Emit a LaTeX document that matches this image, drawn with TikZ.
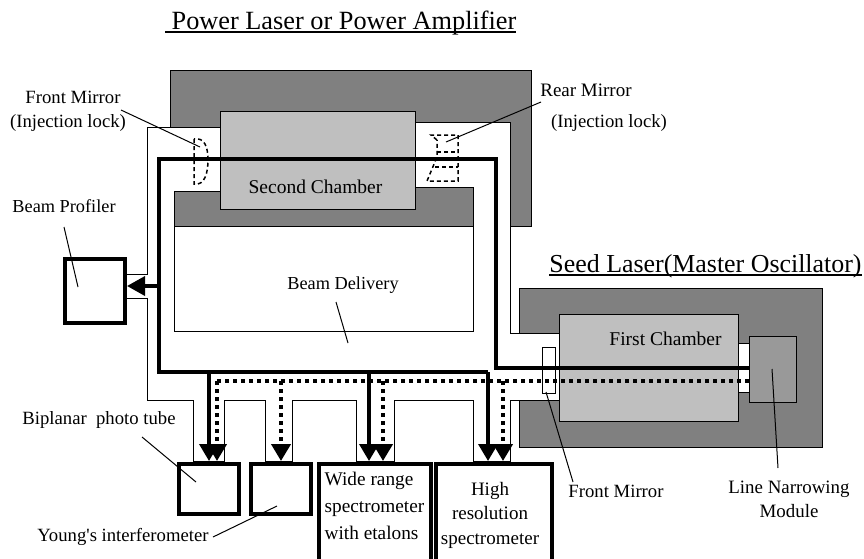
\documentclass[tikz,border=0pt]{standalone}
\usepackage{fontspec}
\setmainfont{Liberation Serif}
\usetikzlibrary{arrows.meta}
\newcommand{\fs}[2]{\fontsize{#1}{#2}\selectfont}
\tikzset{
 thin line/.style={draw=black,line width=0.9pt},
 darkbox/.style={thin line,fill=black!50},
 chamber/.style={thin line,fill=black!25,anchor=north west,inner sep=0pt},
 probe/.style={draw=black,line width=4pt,fill=white,anchor=north west,inner sep=0pt},
 beam/.style={line width=3.6pt,draw=black},
 beamarrow/.style={beam,-{Triangle[length=17pt,width=19pt]},shorten >=1pt},
 dotbeam/.style={line width=4pt,draw=black,dash pattern=on 4pt off 4pt},
 dotarrow/.style={dotbeam,-{Triangle[length=17pt,width=19pt]},shorten >=1pt},
 leader/.style={draw=black,line width=1pt},
 mirror/.style={draw=black,line width=1.5pt,dash pattern=on 4pt off 3pt},
 lab/.style={text=black,inner sep=0pt,align=center,font=\fs{18.7}{22}},
 headline/.style={text=black,inner sep=0pt,anchor=base,font=\fs{25.9}{28}},
 rule line/.style={draw=black,line width=2pt},
}
\begin{document}
\begin{tikzpicture}[x=1pt,y=-1pt]
\useasboundingbox (0,0) rectangle (864,558);
\begin{scope}
\clip (0,0) rectangle (864,558);
% housings
\node[darkbox,anchor=north west,inner sep=0pt,minimum width=361pt,minimum height=156pt] (powerhouse) at (170,70) {};
\node[darkbox,anchor=north west,inner sep=0pt,minimum width=303pt,minimum height=159pt] (seedhouse) at (519,288) {};
% white corridor
\draw[thin line,fill=white] (220,127)--(147,127)--(147,274)--(126,274)--(126,298)--(147,298)--(147,400)
 --(193,400)--(193,461)--(224,461)--(224,400)--(265,400)--(265,461)--(292,461)--(292,400)
 --(356,400)--(356,461)--(394,461)--(394,400)--(473,400)--(473,461)--(510,461)--(510,400)
 --(559,400)--(559,333)--(510,333)--(510,122)--(415,122)--(415,187)--(473,187)--(473,331)
 --(174,331)--(174,191)--(220,191)--cycle;
% beam delivery
\node[thin line,fill=white,anchor=north west,inner sep=0pt,minimum width=299pt,minimum height=105pt] (delivery) at (174,226) {};
\draw[darkbox] (174,191)--(220,191)--(220,187)--(473,187)--(473,226)--(174,226)--cycle;
% chambers
\node[chamber,minimum width=195pt,minimum height=98pt] (second) at (220,111) {};
\node[chamber,minimum width=179pt,minimum height=107pt] (first) at (559,314) {};
\node[thin line,fill=white,anchor=north west,inner sep=0pt,minimum width=11pt,minimum height=49pt] (link) at (738,343) {};
\node[thin line,fill=black!40,anchor=north west,inner sep=0pt,minimum width=47pt,minimum height=66pt] (module) at (749,336) {};
\node[thin line,fill=white,anchor=north west,inner sep=0pt,minimum width=13pt,minimum height=46pt] (seedmirror) at (542,347) {};
% instruments
\node[probe,minimum width=60pt,minimum height=64pt] (profiler) at (63,257) {};
\node[probe,minimum width=60pt,minimum height=50pt] (biplanar) at (177,462) {};
\node[probe,minimum width=60pt,minimum height=50pt] (young) at (249,462) {};
\node[probe,minimum width=112pt,minimum height=120pt] (wide) at (317,462) {};
\node[probe,minimum width=116pt,minimum height=120pt] (high) at (434,462) {};
% beam path coordinates
\coordinate (m1) at (749,368);
\coordinate (c1) at (496,368);
\coordinate (c2) at (496,159);
\coordinate (c3) at (159,159);
\coordinate (c4) at (159,372);
\coordinate (c5) at (488,372);
\coordinate (t1) at (209,372);
\coordinate (t2) at (369,372);
\coordinate (t3) at (159,286);
\coordinate (d0) at (749,381);
\coordinate (d1) at (217,381);
\coordinate (d2) at (281,381);
\coordinate (d3) at (383,381);
\coordinate (d4) at (503,381);
% dotted
\draw[dotbeam] (d0)--(d1);
\draw[dotarrow] (d1)--(d1 |- biplanar.north);
\draw[dotarrow] (d2)--(d2 |- young.north);
\draw[dotarrow] (d3)--(d3 |- wide.north);
\draw[dotarrow] (d4)--(d4 |- high.north);
% solid
\draw[beam,line join=miter] (m1)--(c1)--(c2)--(c3)--(c4)--(c5);
\draw[beamarrow] (c5)--(c5 |- high.north);
\draw[beamarrow] (t1)--(t1 |- biplanar.north);
\draw[beamarrow] (t2)--(t2 |- wide.north);
\draw[beam,-{Triangle[length=18pt,width=19pt]}] (t3)--(t3 -| profiler.east);
% mirrors
\coordinate (fm1) at (194,139);
\coordinate (fm2) at (194,184);
\draw[mirror] (fm1)--(fm2) .. controls (205,186) and (208,172) .. (208,160) .. controls (208,148) and (205,137) .. (fm1);
\coordinate (rm1) at (431,135);
\coordinate (rm2) at (458,135);
\coordinate (rm3) at (458,181);
\coordinate (rm4) at (427,181);
\coordinate (rm5) at (437,157);
\coordinate (rm6) at (437,140);
\draw[mirror] (rm6)--(rm1)--(rm2)--(rm3)--(rm4)--(rm5)--cycle;
\draw[mirror] (437,152)--(458,152);
\draw[mirror] (435,167)--(458,167);
% labels
\node[headline,font=\fs{26.3}{28}] (title) at (344,29.5) {Power Laser or Power Amplifier};
\coordinate (ta) at (165,32); \coordinate (tb) at (516,32);
\draw[rule line] (ta)--(tb);
\node[headline] (seedtitle) at (705.5,272) {Seed Laser(Master Oscillator)};
\coordinate (sa) at (549,275); \coordinate (sb) at (862,275);
\draw[rule line] (sa)--(sb);
\node[lab] (fmlabel) at (73,97) {Front Mirror};
\node[lab] (fmlabelb) at (68,123) {(Injection lock)};
\node[lab,font=\fs{19}{22}] (rmlabel) at (586,90) {Rear Mirror};
\node[lab] (rmlabelb) at (609,123) {(Injection lock)};
\node[lab,font=\fs{18.3}{22}] (bplabel) at (64,206) {Beam Profiler};
\node[lab,font=\fs{19.5}{22}] (sclabel) at (315.5,187) {Second Chamber};
\node[lab,font=\fs{18.3}{22}] (bdlabel) at (343,285) {Beam Delivery};
\node[lab,font=\fs{19.5}{22}] (fclabel) at (665.5,339) {First Chamber};
\node[lab] (btlabel) at (99,420) {Biplanar \ photo tube};
\node[lab] (yilabel) at (123,537) {Young\textquotesingle s interferometer};
\node[lab,align=left,font=\fs{19.3}{27}] (widelabel) at (374.5,506) {Wide range\\spectrometer\\with etalons};
\node[lab,font=\fs{19}{24.5}] (highlabel) at (490,515) {High\\resolution\\spectrometer};
\node[lab] (sflabel) at (616,491) {Front Mirror};
\node[lab,font=\fs{18.9}{24}] (lnlabel) at (789,499) {Line Narrowing\\Module};
% leaders
\coordinate (l1a) at (121,110);
\coordinate (l1b) at (200,147);
\coordinate (l2a) at (541,102);
\coordinate (l2b) at (446,142);
\coordinate (l3a) at (64,227);
\coordinate (l3b) at (78,287);
\coordinate (l4a) at (142,437);
\coordinate (l4b) at (196,482);
\coordinate (l5a) at (213,537);
\coordinate (l5b) at (277,506);
\coordinate (l6a) at (336,302);
\coordinate (l6b) at (348,343);
\coordinate (l7a) at (546,392);
\coordinate (l7b) at (573,482);
\coordinate (l8a) at (772,369);
\coordinate (l8b) at (778,468);
\foreach \a/\b in {l1a/l1b,l2a/l2b,l3a/l3b,l4a/l4b,l5a/l5b,l6a/l6b,l7a/l7b,l8a/l8b}
 \draw[leader] (\a)--(\b);
\end{scope}
\end{tikzpicture}
\end{document}
